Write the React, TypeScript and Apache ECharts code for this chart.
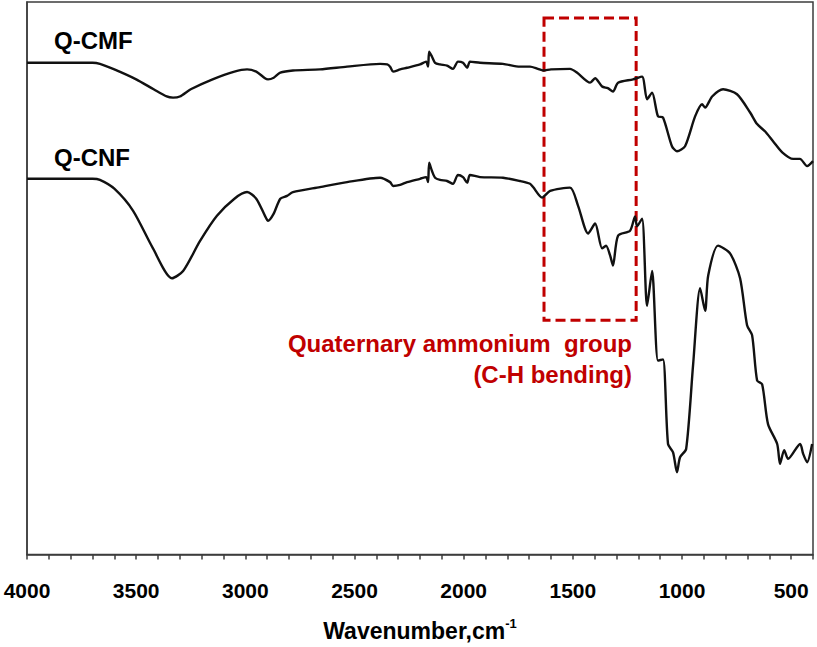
import React, { useEffect, useRef } from "react";
import * as echarts from "echarts";

// Wavenumber (cm-1) and relative transmittance (a.u.)
const cmfWavenumber = [4000, 3800, 3700, 3666, 3600, 3500, 3420, 3360, 3331, 3300, 3250, 3150, 3050, 2992, 2950, 2910, 2896, 2870, 2840, 2782, 2658, 2534, 2383, 2350, 2337, 2323, 2291, 2259, 2200, 2172, 2163, 2158, 2145, 2131, 2108, 2076, 2049, 2026, 2003, 1984, 1971, 1925, 1820, 1742, 1696, 1660, 1636, 1600, 1513, 1480, 1421, 1398, 1366, 1340, 1316, 1293, 1224, 1183, 1160, 1137, 1110, 1087, 1046, 1023, 986, 940, 908, 894, 862, 812, 748, 688, 656, 620, 583, 541, 491, 460, 427, 400];
const cmfValues = [89.0, 89.0, 89.0, 88.8, 87.8, 86.0, 84.2, 82.9, 82.7, 82.9, 84.2, 86.0, 87.4, 87.8, 87.4, 86.2, 86.0, 86.3, 87.2, 87.6, 87.8, 88.3, 88.8, 88.7, 88.3, 87.4, 87.8, 88.1, 88.7, 89.2, 88.3, 91.0, 90.1, 89.0, 88.7, 88.5, 87.9, 89.2, 89.0, 88.1, 89.2, 89.0, 88.8, 88.3, 88.3, 87.9, 87.6, 87.8, 87.9, 87.2, 85.4, 86.2, 84.7, 84.4, 83.8, 85.4, 86.0, 86.5, 82.4, 83.6, 79.3, 79.1, 73.9, 73.0, 73.9, 79.3, 81.5, 80.9, 82.9, 84.2, 83.3, 80.0, 77.9, 76.6, 74.8, 72.8, 71.6, 71.6, 70.3, 71.2];

const cnfWavenumber = [4000, 3800, 3700, 3666, 3600, 3514, 3423, 3336, 3285, 3208, 3130, 3050, 2992, 2950, 2910, 2896, 2870, 2840, 2809, 2782, 2658, 2534, 2383, 2337, 2323, 2291, 2259, 2200, 2172, 2163, 2158, 2145, 2131, 2108, 2076, 2049, 2026, 2003, 1984, 1971, 1925, 1820, 1742, 1696, 1682, 1641, 1604, 1513, 1476, 1430, 1398, 1366, 1348, 1329, 1316, 1293, 1238, 1215, 1206, 1183, 1160, 1137, 1110, 1087, 1064, 1041, 1023, 1009, 981, 949, 917, 894, 880, 835, 780, 734, 702, 679, 656, 633, 606, 564, 551, 532, 514, 459, 445, 427, 404];
const cnfValues = [68.0, 68.0, 68.0, 67.8, 66.2, 62.2, 55.4, 50.0, 51.3, 56.7, 61.3, 64.4, 65.6, 64.4, 61.3, 60.4, 61.7, 64.4, 64.9, 65.6, 66.5, 67.4, 68.2, 67.4, 66.7, 66.9, 67.4, 68.0, 68.3, 67.4, 70.9, 69.4, 68.2, 67.8, 67.6, 67.1, 68.7, 68.3, 67.3, 68.7, 68.3, 68.2, 67.6, 67.1, 66.5, 64.6, 65.8, 66.4, 63.1, 58.1, 59.9, 55.4, 55.9, 54.1, 52.3, 57.7, 58.6, 61.2, 59.4, 60.8, 45.0, 51.3, 35.1, 35.3, 20.0, 18.5, 14.9, 17.6, 19.1, 34.4, 48.2, 44.1, 50.5, 55.9, 54.5, 50.0, 41.5, 39.7, 31.5, 30.8, 23.6, 20.0, 16.4, 18.9, 17.3, 20.0, 18.2, 16.7, 20.0];

const seriesLabels = ["Q-CMF", "Q-CNF"];
const highlightRange = [1632, 1210]; // wavenumber span of dashed box
const highlightLevels = [97.1, 42.4]; // transmittance span of dashed box
const annotationLines = ["Quaternary ammonium  group", "(C-H bending)"];

const FONT = "Arial, 'Liberation Sans', sans-serif";
const AXIS_COLOR = "#3c3c3c";
const RED = "#c00000";

export default function App() {
  const ref = useRef<HTMLDivElement>(null);
  useEffect(() => {
    if (!ref.current) return;
    const chart = echarts.init(ref.current, undefined, { renderer: "svg" });
    const cmf = cmfWavenumber.map((w, i) => [w, cmfValues[i]]);
    const cnf = cnfWavenumber.map((w, i) => [w, cnfValues[i]]);
    chart.setOption({
      animation: false,
      backgroundColor: "#ffffff",
      grid: {
        left: 27,
        right: 4,
        top: 2,
        bottom: 89,
        show: true,
        borderColor: AXIS_COLOR,
        borderWidth: 1.5,
      },
      xAxis: {
        type: "value",
        min: 400,
        max: 4000,
        interval: 100,
        inverse: true,
        axisLine: { show: true, lineStyle: { color: AXIS_COLOR, width: 1.5 } },
        axisTick: { show: true, inside: false, length: 5, lineStyle: { color: AXIS_COLOR, width: 1.5 } },
        splitLine: { show: false },
        axisLabel: {
          margin: 25,
          color: "#000",
          fontFamily: FONT,
          fontWeight: "bold",
          fontSize: 21,
          formatter: (v: number) => (v % 500 === 0 ? String(v) : ""),
        },
        name: "{a|Wavenumber,cm}{b|-1}",
        nameLocation: "middle",
        nameGap: 62,
        nameTextStyle: {
          rich: {
            a: { fontFamily: FONT, fontWeight: "bold", fontSize: 23, color: "#000", lineHeight: 28 },
            b: { fontFamily: FONT, fontWeight: "bold", fontSize: 13, color: "#000", verticalAlign: "top", lineHeight: 28, padding: [0, 0, 8, 0] },
          },
        },
      },
      yAxis: {
        type: "value",
        min: 0,
        max: 100,
        axisLine: { show: true, lineStyle: { color: AXIS_COLOR, width: 1.5 } },
        axisTick: { show: false },
        axisLabel: { show: false },
        splitLine: { show: false },
      },
      series: [
        {
          name: seriesLabels[0],
          type: "line",
          data: cmf,
          showSymbol: false,
          smooth: 0.25,
          lineStyle: { color: "#111111", width: 2.4 },
          markArea: {
            silent: true,
            itemStyle: {
              color: "rgba(0,0,0,0)",
              borderColor: RED,
              borderWidth: 3,
              borderType: [10, 5],
            },
            data: [
              [
                { coord: [highlightRange[0], highlightLevels[0]] },
                { coord: [highlightRange[1], highlightLevels[1]] },
              ],
            ],
          },
        },
        {
          name: seriesLabels[1],
          type: "line",
          data: cnf,
          showSymbol: false,
          smooth: 0.25,
          lineStyle: { color: "#111111", width: 2.4 },
        },
      ],
      graphic: [
        {
          type: "text",
          left: 54,
          top: 28,
          style: { text: seriesLabels[0], font: `bold 24px ${FONT}`, fill: "#000" },
        },
        {
          type: "text",
          left: 54,
          top: 145,
          style: { text: seriesLabels[1], font: `bold 24px ${FONT}`, fill: "#000" },
        },
        {
          type: "text",
          right: 185,
          top: 331,
          style: { text: annotationLines[0], font: `bold 24px ${FONT}`, fill: RED },
        },
        {
          type: "text",
          right: 185,
          top: 362,
          style: { text: annotationLines[1], font: `bold 24px ${FONT}`, fill: RED },
        },
      ],
    });
    return () => chart.dispose();
  }, []);
  return (
    <div
      ref={ref}
      style={{ position: "fixed", left: 0, top: 0, width: 817, height: 647, background: "#fff" }}
    />
  );
}
